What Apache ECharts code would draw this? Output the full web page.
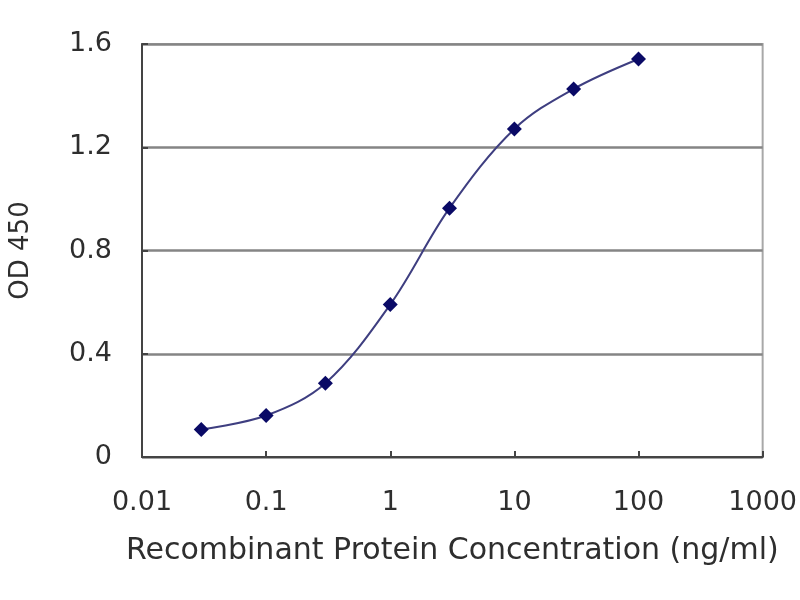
<!DOCTYPE html>
<html>
<head>
<meta charset="utf-8">
<title>OD 450 vs concentration</title>
<script src="https://cdn.jsdelivr.net/npm/echarts@6/dist/echarts.min.js"></script>
<style>
  html, body { margin: 0; padding: 0; background: #fff; }
  #chart { width: 800px; height: 600px; }
</style>
</head>
<body>
<div id="chart"></div>
<script>
// concentration (ng/ml) and measured OD 450
const concentrations = [0.03, 0.1, 0.3, 1, 3, 10, 30, 100];
const odValues = [0.107, 0.161, 0.286, 0.591, 0.964, 1.271, 1.426, 1.542];
const xTickLabels = ["0.01", "0.1", "1", "10", "100", "1000"];
const yTickLabels = ["0", "0.4", "0.8", "1.2", "1.6"];

const points = concentrations.map((c, i) => [c, odValues[i]]);
const textFont = "DejaVu Sans";

const chart = echarts.init(document.getElementById("chart"), null, { renderer: "canvas" });

const option = {
    backgroundColor: "#ffffff",
    animation: false,
    grid: {
        left: 138,
        right: 37,
        top: 44,
        bottom: 143,
        show: true,
        borderColor: "#a8a8a8",
        borderWidth: 2,
        backgroundColor: "#ffffff",
    },
    xAxis: {
        type: "log",
        logBase: 10,
        min: 0.01,
        max: 1000,
        name: "Recombinant Protein Concentration (ng/ml)",
        nameLocation: "middle",
        nameGap: 79,
        nameTextStyle: { fontFamily: textFont, fontSize: 30, color: "#2e2e2e" },
        axisLine: { show: true, lineStyle: { color: "#444", width: 2 } },
        axisTick: { show: true, inside: true, length: 6, lineStyle: { color: "#444", width: 2 } },
        minorTick: { show: false },
        splitLine: { show: false },
        axisLabel: {
            margin: 32,
            fontFamily: textFont,
            fontSize: 27,
            color: "#2e2e2e",
            formatter: (v, idx) => xTickLabels[idx] !== undefined ? xTickLabels[idx] : "",
        },
    },
    yAxis: {
        type: "value",
        min: 0,
        max: 1.6,
        interval: 0.4,
        name: "OD 450",
        nameLocation: "middle",
        nameGap: 108,
        nameTextStyle: { fontFamily: textFont, fontSize: 26, color: "#2e2e2e" },
        axisLine: { show: true, lineStyle: { color: "#444", width: 2 } },
        axisTick: { show: true, inside: true, length: 6, lineStyle: { color: "#444", width: 2 } },
        splitLine: { show: true, lineStyle: { color: "#858585", width: 2.5 } },
        axisLabel: {
            margin: 30,
            fontFamily: textFont,
            fontSize: 27,
            color: "#2e2e2e",
            formatter: (v, idx) => yTickLabels[idx] !== undefined ? yTickLabels[idx] : "",
        },
    },
    series: [
        {
            type: "line",
            data: points,
            smooth: 0.35,
            symbol: "diamond",
            symbolSize: 15,
            itemStyle: { color: "#0a0a66" },
            lineStyle: { color: "#3e3e80", width: 2 },
            z: 5,
        },
    ],
};
chart.setOption(option);
</script>
</body>
</html>
